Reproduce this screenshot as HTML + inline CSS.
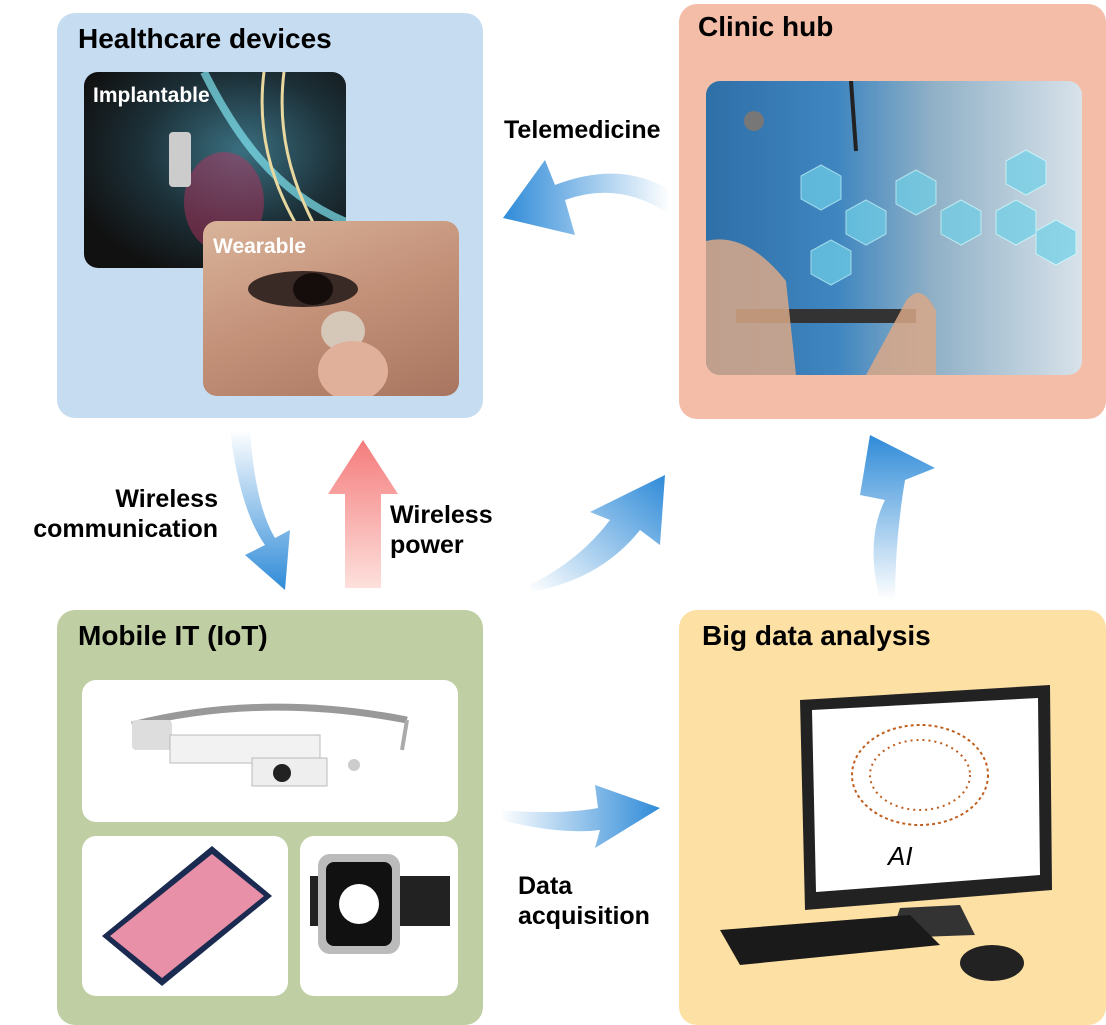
<!DOCTYPE html>
<html><head><meta charset="utf-8">
<style>
html,body{margin:0;padding:0;background:#fff;}
body{width:1106px;height:1025px;position:relative;overflow:hidden;font-family:"Liberation Sans",Arial,sans-serif;}
.box{position:absolute;border-radius:18px;}
.t{position:absolute;font-weight:bold;color:#000;}
.lbl{position:absolute;font-weight:bold;font-size:25px;line-height:30px;color:#000;}
.img{position:absolute;border-radius:14px;overflow:hidden;}
</style></head><body>
<div class="box" style="left:57px;top:13px;width:426px;height:405px;background:#c6dcf0;"></div>
<div class="box" style="left:679px;top:4px;width:427px;height:415px;background:#f4bda8;"></div>
<div class="box" style="left:57px;top:610px;width:426px;height:415px;background:#bfcfa3;"></div>
<div class="box" style="left:679px;top:610px;width:427px;height:415px;background:#fde0a4;"></div>

<div class="t" style="left:78px;top:23px;font-size:28px;">Healthcare devices</div>
<div class="t" style="left:698px;top:11px;font-size:28px;">Clinic hub</div>
<div class="t" style="left:78px;top:620px;font-size:28px;">Mobile IT (IoT)</div>
<div class="t" style="left:702px;top:620px;font-size:28px;">Big data analysis</div>

<!-- implantable -->
<div class="img" style="left:84px;top:72px;width:262px;height:196px;background:radial-gradient(ellipse at 60% 40%,#3a6f80 0%,#1c3038 45%,#111 80%);">
<svg width="262" height="196"><path d="M120 0 C150 60 190 120 262 150" stroke="#7fe4f0" stroke-width="8" fill="none" opacity=".7"/><path d="M180 0 C170 80 200 140 240 196" stroke="#e8d8a0" stroke-width="3" fill="none"/><path d="M200 0 C190 80 220 140 255 196" stroke="#e8d8a0" stroke-width="3" fill="none"/><ellipse cx="140" cy="130" rx="40" ry="50" fill="#c03060" opacity=".45"/><rect x="85" y="60" width="22" height="55" fill="#ccc" rx="4"/></svg>
<div class="t" style="left:9px;top:12px;font-size:21px;color:#fff;">Implantable</div></div>
<!-- wearable -->
<div class="img" style="left:203px;top:221px;width:256px;height:175px;background:linear-gradient(160deg,#d9b49a 0%,#c39078 50%,#a87560 100%);">
<svg width="256" height="175"><ellipse cx="100" cy="68" rx="55" ry="18" fill="#3a2a25"/><ellipse cx="110" cy="68" rx="20" ry="16" fill="#150d0b"/><ellipse cx="140" cy="110" rx="22" ry="20" fill="#d9d2c6" opacity=".85"/><ellipse cx="150" cy="150" rx="35" ry="30" fill="#e0b09a"/></svg>
<div class="t" style="left:10px;top:14px;font-size:21px;color:#fff;">Wearable</div></div>
<!-- clinic image -->
<div class="img" style="left:706px;top:81px;width:376px;height:294px;background:linear-gradient(90deg,#2f6fa8 0%,#3f86c0 35%,#8fb0c6 60%,#d8e2ea 100%);">
<svg width="376" height="294"><g fill="#6fd0e8" opacity=".7" stroke="#cff" stroke-width="1">
<polygon points="95,95 115,84 135,95 135,118 115,129 95,118"/><polygon points="140,130 160,119 180,130 180,153 160,164 140,153"/><polygon points="105,170 125,159 145,170 145,193 125,204 105,193"/><polygon points="190,100 210,89 230,100 230,123 210,134 190,123"/><polygon points="235,130 255,119 275,130 275,153 255,164 235,153"/><polygon points="300,80 320,69 340,80 340,103 320,114 300,103"/><polygon points="330,150 350,139 370,150 370,173 350,184 330,173"/><polygon points="290,130 310,119 330,130 330,153 310,164 290,153"/></g>
<rect x="30" y="228" width="180" height="14" fill="#333"/><path d="M0 160 Q40 150 80 200 L90 294 L0 294 Z" fill="#d9a888" opacity=".85"/><path d="M160 294 L200 220 Q215 200 230 230 L230 294Z" fill="#d9a888" opacity=".85"/><path d="M145 0 L150 70" stroke="#222" stroke-width="4"/><circle cx="48" cy="40" r="10" fill="#777"/></svg></div>

<!-- glasses -->
<div class="img" style="left:82px;top:680px;width:376px;height:142px;background:#fff;">
<svg width="376" height="142"><path d="M50 45 Q180 12 325 40" stroke="#999" stroke-width="7" fill="none"/><path d="M325 40 L320 70" stroke="#aaa" stroke-width="4"/><rect x="50" y="40" width="40" height="30" fill="#ddd" rx="4"/><rect x="88" y="55" width="150" height="28" fill="#f2f2f2" stroke="#bbb"/><rect x="170" y="78" width="75" height="28" fill="#eee" stroke="#bbb"/><circle cx="200" cy="93" r="9" fill="#222"/><circle cx="272" cy="85" r="6" fill="#ccc"/></svg></div>
<!-- phone -->
<div class="img" style="left:82px;top:836px;width:206px;height:160px;background:#fff;">
<svg width="206" height="160"><polygon points="20,100 130,10 190,60 80,150" fill="#1a2a50"/><polygon points="28,100 130,18 182,60 80,142" fill="#e890a8"/></svg></div>
<!-- watch -->
<div class="img" style="left:300px;top:836px;width:158px;height:160px;background:#fff;">
<svg width="158" height="160"><rect x="10" y="40" width="140" height="50" fill="#222"/><rect x="18" y="18" width="82" height="100" rx="12" fill="#bbb"/><rect x="26" y="26" width="66" height="84" rx="8" fill="#111"/><circle cx="59" cy="68" r="20" fill="#fff"/></svg></div>

<!-- computer -->
<svg style="position:absolute;left:700px;top:680px" width="400" height="320">
<polygon points="100,20 350,5 352,210 105,230" fill="#222"/>
<polygon points="112,30 338,18 340,195 116,212" fill="#fff"/>
<ellipse cx="220" cy="95" rx="68" ry="50" fill="none" stroke="#c06020" stroke-width="2" stroke-dasharray="3 3"/>
<ellipse cx="220" cy="95" rx="50" ry="35" fill="none" stroke="#c06020" stroke-width="2" stroke-dasharray="2 4"/>
<text x="188" y="185" font-family="Liberation Sans" font-style="italic" font-size="26">AI</text>
<polygon points="200,228 260,225 275,255 190,258" fill="#333"/>
<polygon points="20,250 210,235 240,265 40,285" fill="#1a1a1a"/>
<ellipse cx="292" cy="283" rx="32" ry="18" fill="#222"/>
</svg>

<!-- arrows -->
<svg style="position:absolute;left:0;top:0" width="1106" height="1025">
<defs>
<linearGradient id="gb1" x1="1" y1="0" x2="0" y2="0"><stop offset="0" stop-color="#2f8bd8" stop-opacity="0"/><stop offset="1" stop-color="#2f8bd8"/></linearGradient>
<linearGradient id="gb2" x1="0" y1="0" x2="0" y2="1"><stop offset="0" stop-color="#2f8bd8" stop-opacity="0"/><stop offset="1" stop-color="#2f8bd8"/></linearGradient>
<linearGradient id="gb3" x1="0" y1="1" x2="1" y2="0"><stop offset="0" stop-color="#2f8bd8" stop-opacity="0"/><stop offset="1" stop-color="#2f8bd8"/></linearGradient>
<linearGradient id="gb4" x1="0" y1="1" x2="0" y2="0"><stop offset="0" stop-color="#2f8bd8" stop-opacity="0"/><stop offset="1" stop-color="#2f8bd8"/></linearGradient>
<linearGradient id="gb5" x1="0" y1="0" x2="1" y2="0"><stop offset="0" stop-color="#2f8bd8" stop-opacity="0"/><stop offset="1" stop-color="#2f8bd8"/></linearGradient>
<linearGradient id="gp" x1="0" y1="1" x2="0" y2="0"><stop offset="0" stop-color="#fde0dc"/><stop offset="1" stop-color="#f47c7c"/></linearGradient>
</defs>
<path d="M670 215 Q620 180 565 200 L575 235 L503 218 L545 160 L555 185 Q620 160 670 190 Z" fill="url(#gb1)"/>
<path d="M230 430 Q240 510 265 545 L245 555 L285 590 L290 530 L275 538 Q255 505 250 430 Z" fill="url(#gb2)"/>
<polygon points="345,588 345,494 328,494 363,440 398,494 381,494 381,588" fill="url(#gp)"/>
<path d="M530 585 Q580 560 610 520 L590 512 L665 475 L660 545 L640 530 Q600 580 530 592 Z" fill="url(#gb3)"/>
<path d="M880 600 Q865 540 885 500 L860 495 L870 435 L935 468 L905 480 Q895 540 895 600 Z" fill="url(#gb4)"/>
<path d="M500 820 Q560 835 600 830 L595 848 L660 808 L595 785 L598 808 Q560 815 500 810 Z" fill="url(#gb5)"/>
</svg>

<div class="lbl" style="left:504px;top:115px;">Telemedicine</div>
<div class="lbl" style="left:10px;top:484px;width:208px;text-align:right;">Wireless<br>communication</div>
<div class="lbl" style="left:390px;top:500px;">Wireless<br>power</div>
<div class="lbl" style="left:518px;top:871px;">Data<br>acquisition</div>
</body></html>
